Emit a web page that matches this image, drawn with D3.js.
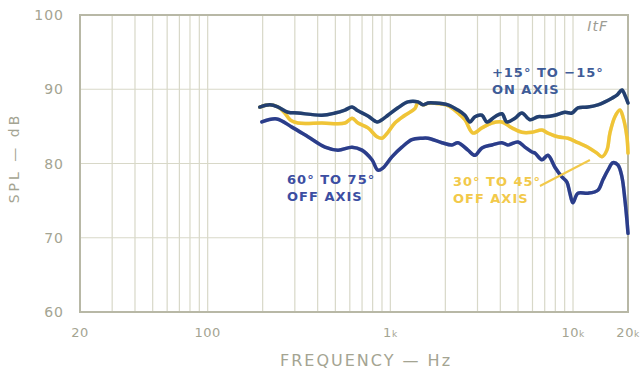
<!DOCTYPE html>
<meta charset="utf-8">
<title>SPL vs Frequency</title>
<style>
body { margin: 0; background: #fff; }
svg { display: block; font-family: "DejaVu Sans", sans-serif; }
.grid line { stroke: #d8d8c8; stroke-width: 1.2px; }
.frame { fill: none; stroke: #b8b8a6; stroke-width: 2px; }
.tick-label { fill: #a4a492; font-size: 14px; letter-spacing: 1px; }
.xlab { font-size: 13px; letter-spacing: 0.5px; }
.axis-title { fill: #a4a492; font-size: 16px; letter-spacing: 2px; }
.curve { fill: none; stroke-width: 3.5px; stroke-linejoin: round; stroke-linecap: round; }
.note { font-size: 13px; font-weight: bold; letter-spacing: 1px; }
</style>
<svg width="640" height="372"></svg>
<script src="https://cdnjs.cloudflare.com/ajax/libs/d3/7.8.5/d3.min.js"></script>
<script>
var yTicks = [60, 70, 80, 90, 100]
var xTicks = [20, 100, 1000, 10000, 20000]
var xTickLabels = ["20", "100", "1k", "10k", "20k"]
var xGrid = [20, 30, 40, 50, 60, 70, 80, 90, 100, 200, 300, 400, 500, 600, 700, 800, 900,
	1000, 2000, 3000, 4000, 5000, 6000, 7000, 8000, 9000, 10000, 20000]

// +15 to -15 on axis
var onAxisFreq = [193, 219, 243, 275, 312, 422, 498, 564, 617, 665, 754, 845, 900, 970, 1101, 1248, 1416, 1508, 1606,
	1754, 2066, 2345, 2560, 2728, 2904, 3173, 3380, 3737, 4080, 4346, 4810, 5252, 5808, 6424, 7018, 7960,
	9028, 9862, 10638, 12068, 13684, 14952, 16332, 17394, 18524, 19238, 20000]
var onAxisDb = [87.6, 87.9, 87.6, 86.9, 86.8, 86.5, 86.8, 87.2, 87.6, 87.1, 86.4, 85.6, 85.9, 86.5, 87.5, 88.3, 88.3, 87.9, 88.15,
	88.15, 87.9, 87.2, 86.5, 85.6, 86.3, 86.5, 85.6, 86.3, 86.7, 85.6, 86.1, 86.8, 85.9, 86.3, 86.3, 86.5,
	86.9, 86.8, 87.5, 87.6, 87.9, 88.3, 88.8, 89.2, 89.9, 89.2, 88.15]

// 30 to 45 off axis
var midFreq = [193, 219, 243, 262, 285, 312, 422, 564, 617, 665, 754, 845, 900, 970, 1059, 1202, 1363, 1416, 1508, 1606,
	1754, 2066, 2345, 2560, 2833, 3173, 3598, 4080, 4630, 5252, 5958, 6756, 7288, 8266, 9378, 10638, 12068, 13512,
	14394, 15334, 15924, 16960, 18064, 18760, 19724, 20000]
var midDb = [87.6, 87.9, 87.6, 86.9, 85.8, 85.45, 85.45, 85.45, 86.1, 85.45, 84.8, 83.6, 83.4, 84.2, 85.45, 86.5, 87.4, 88.2, 87.9, 88.1,
	88.1, 87.8, 86.8, 85.9, 84.1, 84.8, 85.45, 85.6, 84.8, 84.2, 84.2, 84.5, 84.1, 83.6, 83.4, 82.8, 82.2, 81.4,
	80.9, 81.8, 84.1, 86.3, 87.2, 86.3, 83.6, 81.4]

// 60 to 75 off axis
var offFreq = [198, 239, 289, 354, 439, 517, 617, 699, 793, 855, 911, 1020, 1157, 1312, 1489, 1606, 1915, 2174, 2345,
	2660, 2904, 3173, 3598, 4080, 4402, 4994, 5454, 5958, 6186, 6756, 7288, 7960, 8692, 9260, 9616, 9986,
	10638, 12068, 13684, 14580, 15528, 16538, 17614, 18524, 19238, 19724, 20000]
var offDb = [85.6, 86.0, 84.9, 83.6, 82.2, 81.8, 82.2, 81.8, 80.5, 79.1, 79.4, 80.9, 82.2, 83.2, 83.4, 83.4, 82.8, 82.5, 82.8,
	81.8, 81.1, 82.1, 82.5, 82.8, 82.5, 82.9, 82.2, 81.55, 81.4, 80.5, 81.1, 79.5, 78.2, 77.5, 76.0, 74.7,
	76.0, 76.0, 76.4, 77.8, 79.1, 80.1, 79.8, 78.2, 75.1, 72.4, 70.6]

var svg = d3.select("svg")

var x = d3.scaleLog().domain([20, 20000]).range([80, 628])
var y = d3.scaleLinear().domain([60, 100]).range([312, 15])

var grid = svg.append("g").attr("class", "grid")

grid.selectAll("line.v")
	.data(xGrid)
	.enter().append("line")
		.attr("class", "v")
		.attr("x1", function(d) { return x(d) })
		.attr("x2", function(d) { return x(d) })
		.attr("y1", y(100))
		.attr("y2", y(60))

grid.selectAll("line.h")
	.data(yTicks)
	.enter().append("line")
		.attr("class", "h")
		.attr("x1", x(20))
		.attr("x2", x(20000))
		.attr("y1", function(d) { return y(d) })
		.attr("y2", function(d) { return y(d) })

svg.append("rect")
	.attr("class", "frame")
	.attr("x", x(20))
	.attr("y", y(100))
	.attr("width", x(20000) - x(20))
	.attr("height", y(60) - y(100))

svg.selectAll("text.ylab")
	.data(yTicks)
	.enter().append("text")
		.attr("class", "tick-label ylab")
		.attr("x", x(20) - 16)
		.attr("y", function(d) { return y(d) })
		.attr("dy", "0.36em")
		.attr("text-anchor", "end")
		.text(function(d) { return d })

var xl = svg.selectAll("text.xlab")
	.data(xTicks)
	.enter().append("text")
		.attr("class", "tick-label xlab")
		.attr("x", function(d) { return x(d) })
		.attr("y", 337)
		.attr("text-anchor", "middle")

xl.append("tspan").text(function(d, i) { return xTickLabels[i].replace("k", "") })
xl.append("tspan")
	.style("font-size", "9px")
	.text(function(d, i) { return xTickLabels[i].indexOf("k") >= 0 ? "k" : "" })

svg.append("text")
	.attr("class", "axis-title")
	.attr("x", 366)
	.attr("y", 366)
	.attr("text-anchor", "middle")
	.text("FREQUENCY — Hz")

svg.append("text")
	.attr("class", "axis-title")
	.attr("transform", "translate(19,158) rotate(-90)")
	.attr("text-anchor", "middle")
	.style("font-size", "14px")
	.style("letter-spacing", "3px")
	.text("SPL — dB")

svg.append("text")
	.attr("x", 608)
	.attr("y", 31)
	.attr("text-anchor", "end")
	.style("font-size", "14px")
	.style("font-style", "italic")
	.style("fill", "#9c9c94")
	.style("letter-spacing", "1px")
	.text("ItF")

var line = d3.line()
	.x(function(d) { return x(d[0]) })
	.y(function(d) { return y(d[1]) })
	.curve(d3.curveCatmullRom.alpha(0.5))

function pairs(f, v) { return f.map(function(d, i) { return [d, v[i]] }) }

var series = [
	{ data: pairs(offFreq, offDb), color: "#2b3d8a", under: "#5a78c4" },
	{ data: pairs(midFreq, midDb), color: "#f0c437", under: "#d9dc70" },
	{ data: pairs(onAxisFreq, onAxisDb), color: "#233f70", under: "#3f7d86" }
]

series.forEach(function(s) {
	svg.append("path")
		.attr("class", "curve")
		.attr("d", line(s.data))
		.attr("stroke", s.under)
		.attr("stroke-width", 5)
		.attr("opacity", 0.45)
	svg.append("path")
		.attr("class", "curve")
		.attr("d", line(s.data))
		.attr("stroke", s.color)
})

var notes = [
	{ f: 3598, db: 91.65, lines: ["+15° TO −15°", "ON AXIS"], color: "#3f5c98" },
	{ f: 272, db: 77.25, lines: ["60° TO 75°", "OFF AXIS"], color: "#3c4ea2" },
	{ f: 2202, db: 77.0, lines: ["30° TO 45°", "OFF AXIS"], color: "#f2c94a" }
]

notes.forEach(function(n) {
	var t = svg.append("text")
		.attr("class", "note")
		.attr("x", x(n.f))
		.attr("y", y(n.db))
		.attr("fill", n.color)
	t.selectAll("tspan")
		.data(n.lines)
		.enter().append("tspan")
			.attr("x", x(n.f))
			.attr("dy", function(d, i) { return i ? "1.33em" : 0 })
			.text(function(d) { return d })
})

svg.append("line")
	.attr("x1", x(6591))
	.attr("y1", y(76.97))
	.attr("x2", x(12376))
	.attr("y2", y(80.47))
	.attr("stroke", "#f2c94a")
	.attr("stroke-width", 2)
</script>
